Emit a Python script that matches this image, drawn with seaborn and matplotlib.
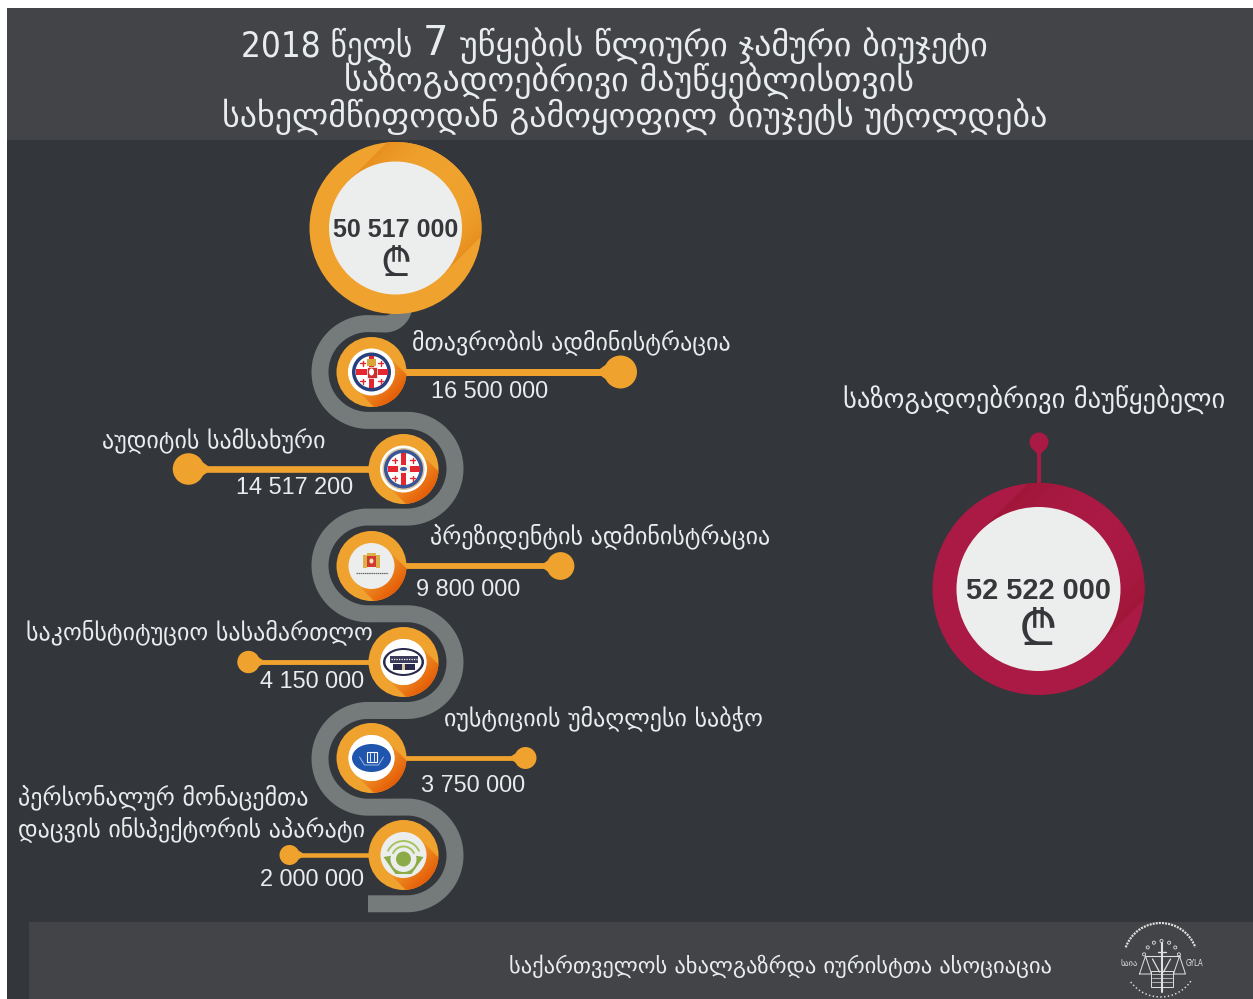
import numpy as np
import pandas as pd
import matplotlib
matplotlib.use("Agg")
import matplotlib.pyplot as plt
import seaborn as sns
from matplotlib.colors import LinearSegmentedColormap
from matplotlib.patches import Arc, Circle, Ellipse, Polygon, Rectangle

sns.set_theme(style="white")
plt.rcParams['font.family'] = ['DejaVu Sans']

# data
agencies = ["მთავრობის ადმინისტრაცია", "აუდიტის სამსახური", "პრეზიდენტის ადმინისტრაცია",
            "საკონსტიტუციო სასამართლო", "იუსტიციის უმაღლესი საბჭო",
            "პერსონალურ მონაცემთა\nდაცვის ინსპექტორის აპარატი"]
budgets = [16500000, 14517200, 9800000, 4150000, 3750000, 2000000]
total_budget = 50517000
broadcaster_budget = 52522000
broadcaster_name = "საზოგადოებრივი მაუწყებელი"
title_lines = ["2018 წელს", "7", "უწყების წლიური ჯამური ბიუჯეტი",
               "საზოგადოებრივი მაუწყებლისთვის",
               "სახელმწიფოდან გამოყოფილ ბიუჯეტს უტოლდება"]
footer_text = "საქართველოს ახალგაზრდა იურისტთა ასოციაცია"

# layout, in pixels of the picture
node_x = [371.5, 403.5, 371.5, 403.5, 371.5, 403.5]
node_y = [372, 469, 566, 662, 758, 855]
stem_len = [249, 215, 189, 155, 154, 114]  # not proportional in the original
name_pos = [(412, 342, 'left'), (326, 440, 'right'), (430, 536, 'left'),
            (373, 632, 'right'), (444, 718, 'left'), (18, 813, 'left')]
value_pos = [(490, 392), (295, 488), (468, 589), (312, 682), (473, 786), (312, 880)]

ORANGE = "#f0a22e"
CRIMSON = "#aa1a44"
BG = "#33363a"
BAND = "#434447"
ROAD = "#757a7b"
PAPER = "#eceeed"
INK = "#35373b"
LIGHT = "#e9ecec"
RED = "#e3262f"
SANS = "Liberation Sans"
LARI = ["Noto Sans", "DejaVu Sans"]


def fmt(v):
    return f"{v:,}".replace(",", " ")


def pt(px):
    return px * 0.72


def shaded_disc(ax, cx, cy, R, r, base, dark, up=False, edge_dark=False):
    # ring with a long 45 degree shadow cast by the inner disc
    ax.add_patch(Circle((cx, cy), R, fc=base, ec="none", zorder=3))
    ux, uy = (np.array([1, -1]) if up else np.array([1, 1])) / np.sqrt(2)
    vx, vy = -uy, ux
    a = np.arcsin(r / R)
    t = np.linspace(-a, a, 80)
    us = np.r_[0, R * np.cos(t), 0]
    vs = np.r_[-r, R * np.sin(t), r]
    poly = np.c_[cx + us * ux + vs * vx, cy + us * uy + vs * vy]
    xs = np.linspace(cx - R, cx + R, 200)
    ys = np.linspace(cy - R, cy + R, 200)
    X, Y = np.meshgrid(xs, ys)
    if edge_dark:
        g = (np.abs((X - cx) * vx + (Y - cy) * vy) / r) ** 3
    else:
        g = ((X - cx) * ux + (Y - cy) * uy) / R
    cmap = LinearSegmentedColormap.from_list("shade", [base, dark])
    im = ax.imshow(np.clip(g, 0, 1), extent=(xs[0], xs[-1], ys[-1], ys[0]), origin="upper",
                   cmap=cmap, vmin=0, vmax=1, zorder=3.1, aspect="auto")
    im.set_clip_path(Polygon(poly, closed=True, transform=ax.transData))
    ax.add_patch(Circle((cx, cy), r, fc=PAPER, ec="none", zorder=3.2))


def cross_emblem(ax, cx, cy, rim, second=False):
    ax.add_patch(Circle((cx, cy), 23.5, fc="white", ec="none", zorder=4))
    if second:
        ax.add_patch(Circle((cx, cy), 21, fc="#d9c6a0", ec="none", zorder=4.05))
    ax.add_patch(Circle((cx, cy), 19.5, fc=rim, ec="none", zorder=4.1))
    ax.add_patch(Circle((cx, cy), 16, fc="white", ec="none", zorder=4.2))
    ax.add_patch(Rectangle((cx - 2.8, cy - 16), 5.6, 32, fc=RED, ec="none", zorder=4.3))
    ax.add_patch(Rectangle((cx - 16, cy - 2.8), 32, 5.6, fc=RED, ec="none", zorder=4.3))
    for dx in (-9, 9):
        for dy in (-9, 9):
            ax.plot([cx + dx - 2.5, cx + dx + 2.5], [cy + dy, cy + dy], color=RED, lw=1, zorder=4.4)
            ax.plot([cx + dx, cx + dx], [cy + dy - 2.5, cy + dy + 2.5], color=RED, lw=1, zorder=4.4)
    if second:
        ax.add_patch(Rectangle((cx - 6, cy - 4), 12, 8, fc="#f4f0e4", ec="none", zorder=4.5))
        ax.add_patch(Ellipse((cx, cy), 7, 4, fc="#3a5ba6", ec="none", zorder=4.6))
    else:
        ax.add_patch(Rectangle((cx - 5, cy - 5), 10, 11, fc="#c9302f", ec="white", lw=0.5, zorder=4.5))
        ax.add_patch(Ellipse((cx, cy), 5, 7, fc="white", ec="none", zorder=4.6))
        ax.add_patch(Rectangle((cx - 4.5, cy - 13), 9, 7, fc="#d8a83a", ec="none", zorder=4.6))


def crest_emblem(ax, cx, cy):
    ax.add_patch(Rectangle((cx - 8.5, cy - 11), 4, 13, fc="#dcb04a", ec="none", zorder=4.1))
    ax.add_patch(Rectangle((cx + 4.5, cy - 11), 4, 13, fc="#dcb04a", ec="none", zorder=4.1))
    ax.add_patch(Rectangle((cx - 4.5, cy - 13), 9, 3, fc="#dcb04a", ec="none", zorder=4.1))
    ax.add_patch(Rectangle((cx - 4.5, cy - 10), 9, 11, fc="#d23a2e", ec="none", zorder=4.2))
    ax.add_patch(Ellipse((cx, cy - 5), 4, 5, fc="#f2e3c0", ec="none", zorder=4.3))
    ax.plot([cx - 16, cx + 16], [cy + 7, cy + 7], color="#666666", lw=0.9, ls=(0, (1.2, 0.5)), zorder=4.2)


def court_emblem(ax, cx, cy):
    ax.add_patch(Circle((cx, cy), 23, fc="white", ec="none", zorder=4))
    ax.add_patch(Ellipse((cx, cy), 41, 28, fc="#2a2a4c", ec="none", zorder=4.1))
    ax.add_patch(Ellipse((cx, cy), 36, 24, fc="white", ec="none", zorder=4.2))
    ax.add_patch(Rectangle((cx - 14, cy - 6), 28, 7, fc="#3c3c5a", ec="none", zorder=4.3))
    ax.plot([cx - 13, cx + 13], [cy - 3, cy - 3], color="white", lw=0.9, ls=(0, (1, 1)), zorder=4.4)
    ax.add_patch(Rectangle((cx - 11, cy + 2), 22, 6, fc="#2a2a4c", ec="none", zorder=4.3))
    ax.add_patch(Rectangle((cx - 1.5, cy + 2), 3, 6, fc="#d9c6a0", ec="none", zorder=4.4))


def justice_emblem(ax, cx, cy):
    ax.add_patch(Circle((cx, cy), 23, fc="white", ec="none", zorder=4))
    ax.add_patch(Ellipse((cx, cy), 39, 28, fc="#1f55ac", ec="none", zorder=4.1))
    ax.add_patch(Rectangle((cx - 5, cy - 6), 10, 10, fc="none", ec="white", lw=0.8, zorder=4.3))
    ax.plot([cx - 2, cx - 2], [cy - 5, cy + 3], color="white", lw=0.6, zorder=4.3)
    ax.plot([cx + 2, cx + 2], [cy - 5, cy + 3], color="white", lw=0.6, zorder=4.3)
    ax.plot([cx - 12, cx - 7, cx + 7, cx + 12], [cy - 1, cy + 7, cy + 7, cy - 1], color="#9db8e0", lw=0.7, zorder=4.3)


def data_emblem(ax, cx, cy):
    green = "#8aab45"
    ax.add_patch(Polygon([(cx - 20, cy + 2), (cx - 8, cy + 19), (cx + 8, cy + 19), (cx + 20, cy + 2),
                          (cx + 8, cy), (cx - 8, cy)], fc=green, ec="none", zorder=4.1))
    ax.add_patch(Circle((cx, cy + 4), 13, fc=PAPER, ec="none", zorder=4.2))
    ax.add_patch(Circle((cx, cy + 4), 7.5, fc=green, ec="none", zorder=4.3))
    for rad, lw in ((11.5, 1.4), (17, 1.4)):
        t = np.radians(np.linspace(205, 335, 40))
        ax.plot(cx + rad * np.cos(t), cy + 3 + rad * np.sin(t), color="#a5c45f", lw=lw, zorder=4.3)


def gyla_logo(ax, cx, cy):
    c = "#dfe1e1"
    ax.add_patch(Arc((cx, cy), 74, 74, theta1=200, theta2=340, ec=c, lw=1.6, ls=(0, (0.9, 0.5)), zorder=4))
    ax.add_patch(Arc((cx, cy), 74, 74, theta1=35, theta2=145, ec=c, lw=1.1, ls=(0, (0.9, 1.6)), zorder=4))
    ax.plot([cx + 1, cx + 1], [cy - 17, cy + 32], color=c, lw=1.5, zorder=4)
    ax.plot([cx - 15, cx + 19], [cy - 4, cy - 4], color=c, lw=0.8, zorder=4)
    ax.plot([cx - 3, cx + 5], [cy - 8, cy - 8], color=c, lw=1, zorder=4)
    for s, px in ((-1, cx - 15), (1, cx + 19)):
        ax.plot([px - 6, px, px + 6, px - 6], [cy + 14, cy - 4, cy + 14, cy + 14], color=c, lw=0.7, zorder=4)
        ax.plot([cx + 1 + s * 2, cx + 1 + s * 9], [cy + 12, cy - 1], color=c, lw=0.9, zorder=4)
    ax.add_patch(Rectangle((cx - 10, cy + 11), 22, 16, fc="none", ec=c, lw=0.7, zorder=4))
    for k in (14, 18, 22):
        ax.plot([cx - 9, cx + 11], [cy + k, cy + k], color=c, lw=0.5, zorder=4)
    t = np.radians(np.linspace(195, 345, 7))
    ax.scatter(cx + 1 + 18 * np.cos(t), cy - 1 + 18 * np.sin(t), s=5, facecolors="none",
               edgecolors=c, lw=0.6, zorder=4)
    ax.text(cx - 31.5, cy + 3, "საია", color=c, fontsize=6, ha="center", va="center", zorder=4)
    ax.text(cx + 34, cy + 3, "GYLA", color=c, fontsize=5.5, stretch="condensed", ha="center", va="center", zorder=4)


fig, ax = plt.subplots(figsize=(12.53, 9.99), dpi=100)
fig.subplots_adjust(0, 0, 1, 1)
fig.patch.set_facecolor("white")

# panels
ax.add_patch(Rectangle((7, 8), 1246, 991, fc=BG, ec="none", zorder=0))
ax.add_patch(Rectangle((7, 8), 1246, 132, fc=BAND, ec="none", zorder=1))
ax.add_patch(Rectangle((29, 922), 1224, 77, fc=BAND, ec="none", zorder=1))

# winding road
t = np.linspace(0, np.pi, 60)
qt = np.linspace(0, np.pi / 2, 20)
road_x = list(385 + 19 * np.cos(qt))
road_y = list(305 + 19 * np.sin(qt))
levels = [323.6, 420.3, 517, 613.7, 710.4, 807]
bend = 48.4
for i, y0 in enumerate(levels):
    if i % 2 == 0:
        road_x += list(368.4 - bend * np.sin(t))
    else:
        road_x += list(406.6 + bend * np.sin(t))
    road_y += list(y0 + bend * (1 - np.cos(t)))
road_x.append(368)
road_y.append(road_y[-1])
ax.plot(road_x, road_y, color=ROAD, lw=pt(17), solid_capstyle="butt", solid_joinstyle="round", zorder=2)

# top total
shaded_disc(ax, 395.5, 228, 86, 66.5, ORANGE, "#e8901f", up=True, edge_dark=True)
ax.text(395.5, 230, fmt(total_budget), family=SANS, weight="bold", color=INK, fontsize=pt(25),
        ha="center", va="center", zorder=5)
ax.text(395.5, 266, "₾", family=LARI, weight="bold", color=INK, fontsize=pt(40), ha="center", va="center", zorder=5)

# right circle
ax.plot([1039, 1039], [442, 490], color=CRIMSON, lw=pt(4), solid_capstyle="butt", zorder=2)
ax.add_patch(Circle((1039, 442), 9.5, fc=CRIMSON, ec="none", zorder=2))
ax.add_patch(Polygon([(1033, 449), (1045, 449), (1041, 454), (1037, 454)], fc=CRIMSON, ec="none", zorder=2))
shaded_disc(ax, 1038.5, 589, 106, 82, CRIMSON, "#a01638", up=True, edge_dark=True)
ax.text(1038.5, 591, fmt(broadcaster_budget), family=SANS, weight="bold", color=INK, fontsize=pt(29),
        ha="center", va="center", zorder=5)
ax.text(1038.5, 632, "₾", family=LARI, weight="bold", color=INK, fontsize=pt(50), ha="center", va="center", zorder=5)
ax.text(1034.5, 400, broadcaster_name, color=LIGHT, fontsize=19.1, ha="center", va="center", zorder=5)

# stems and end dots
df = pd.DataFrame({"agency": agencies, "budget": budgets, "node_x": node_x, "y": node_y, "stem": stem_len})
df["side"] = [1, -1, 1, -1, 1, -1]
df["end_x"] = df["node_x"] + df["side"] * df["stem"]
stems = pd.concat([df.assign(x=df["node_x"]), df.assign(x=df["end_x"])])
sns.lineplot(data=stems, x="x", y="y", size="budget", sizes=(pt(4.5), pt(7)), units="agency", estimator=None,
             sort=False, color=ORANGE, legend=False, ax=ax, zorder=2.5)
sns.scatterplot(data=df, x="end_x", y="y", size="budget", sizes=(pt(20) ** 2, pt(33) ** 2), color=ORANGE,
                linewidth=0, legend=False, ax=ax, zorder=2.5)
for _, row in df.iterrows():
    rad = 10 + 7 * (row["budget"] - 2000000) / 14500000
    s = -row["side"]
    ax.add_patch(Polygon([(row["end_x"] + s * rad * 0.7, row["y"] - rad * 0.55),
                          (row["end_x"] + s * rad * 1.3, row["y"] - 2),
                          (row["end_x"] + s * rad * 1.3, row["y"] + 2),
                          (row["end_x"] + s * rad * 0.7, row["y"] + rad * 0.55)], fc=ORANGE, ec="none", zorder=2.5))

# nodes
for x, y in zip(node_x, node_y):
    shaded_disc(ax, x, y, 35, 23, ORANGE, "#e65c08")
cross_emblem(ax, node_x[0], node_y[0], "#27407e")
cross_emblem(ax, node_x[1], node_y[1], "#3a5596", second=True)
crest_emblem(ax, node_x[2], node_y[2])
court_emblem(ax, node_x[3], node_y[3])
justice_emblem(ax, node_x[4], node_y[4])
data_emblem(ax, node_x[5], node_y[5])

# labels
for name, (x, y, ha) in zip(agencies, name_pos):
    ax.text(x, y, name, color=LIGHT, fontsize=17.25, ha=ha, va="center", linespacing=1.3, zorder=5)
for val, (x, y) in zip(budgets, value_pos):
    ax.text(x, y, fmt(val), family=SANS, color=LIGHT, fontsize=pt(23.5), ha="center", va="center", zorder=5)

# header
ax.text(412, 46, title_lines[0], color=LIGHT, fontsize=25, ha="right", va="center", stretch="condensed", zorder=5)
ax.text(436, 44, title_lines[1], color=LIGHT, fontsize=29, ha="center", va="center", zorder=5)
ax.text(460, 46, title_lines[2], color=LIGHT, fontsize=24.5, ha="left", va="center", zorder=5)
ax.text(629, 81, title_lines[3], color=LIGHT, fontsize=24.5, ha="center", va="center", zorder=5)
ax.text(635, 117, title_lines[4], color=LIGHT, fontsize=24.5, ha="center", va="center", zorder=5)

# footer
ax.text(780, 966, footer_text, color=LIGHT, fontsize=16.2, ha="center", va="center", zorder=5)
gyla_logo(ax, 1160.5, 960)

ax.set_xlim(0, 1253)
ax.set_ylim(999, 0)
ax.axis("off")
fig.savefig("out.png", dpi=100)
